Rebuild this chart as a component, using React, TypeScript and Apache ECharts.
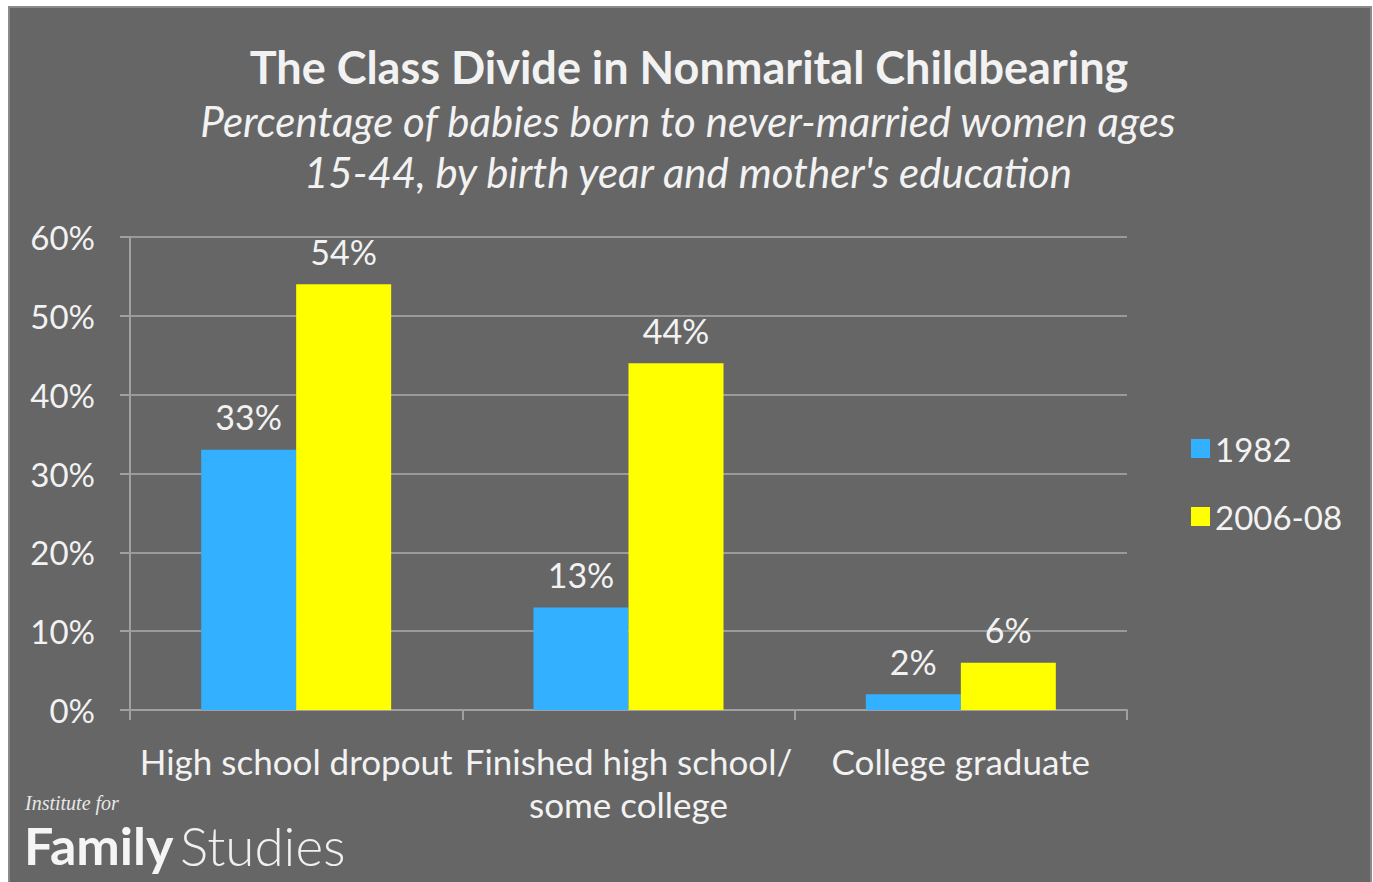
import React, { useEffect, useRef } from "react";
import * as echarts from "echarts";

const categories = ["High school dropout", "Finished high school/\nsome college", "College graduate"];
const series1982 = [33, 13, 2];
const series2006 = [54, 44, 6];
const seriesNames = ["1982", "2006-08"];

const FONT = "Lato, 'Open Sans', sans-serif";
const TXT = "#f2f2f2";

export default function App() {
  const ref = useRef<HTMLDivElement>(null);
  useEffect(() => {
    if (!ref.current) return;
    const chart = echarts.init(ref.current, null, { renderer: "svg" });
    chart.setOption({
      animation: false,
      backgroundColor: "#ffffff",
      textStyle: { fontFamily: FONT },
      graphic: [
        {
          type: "rect",
          z: -10,
          shape: { x: 9, y: 7, width: 1362, height: 880 },
          style: { fill: "#666666", stroke: "#8a8a8a", lineWidth: 2 },
        },
        {
          type: "text",
          x: 689,
          y: 44,
          style: { text: "The Class Divide in Nonmarital Childbearing", fill: TXT, font: `bold 45px ${FONT}`, align: "center" },
        },
        {
          type: "text",
          x: 688,
          y: 95,
          style: {
            text: "Percentage of babies born to never-married women ages\n15-44, by birth year and mother's education",
            fill: TXT,
            font: `italic 42px ${FONT}`,
            align: "center",
            lineHeight: 51,
          },
        },
        {
          type: "text",
          x: 25,
          y: 793,
          style: { text: "Institute for", fill: "#e8e8e8", font: "italic 20px 'Liberation Serif', serif", lineHeight: 20 },
        },
        {
          type: "text",
          x: 24,
          y: 819,
          style: { text: "Family", fill: "#f5f5f5", font: `bold 52px ${FONT}`, lineHeight: 52 },
        },
        {
          type: "text",
          x: 180,
          y: 819,
          style: { text: "Studies", fill: "#f0f0f0", font: `300 53px ${FONT}`, lineHeight: 52 },
        },
      ],
      legend: {
        orient: "vertical",
        left: 1186,
        top: 427,
        itemWidth: 19,
        itemHeight: 19,
        itemGap: 35,
        icon: "rect",
        textStyle: { color: TXT, fontSize: 33, fontFamily: FONT, padding: [0, 0, 0, 0] },
        data: seriesNames,
      },
      grid: { left: 130, right: 246, top: 237, bottom: 172, containLabel: false },
      xAxis: {
        type: "category",
        data: categories,
        axisLine: { lineStyle: { color: "#a0a0a0", width: 2 } },
        axisTick: { show: true, length: 10, lineStyle: { color: "#a0a0a0", width: 2 } },
        axisLabel: { color: TXT, fontSize: 35, fontFamily: FONT, margin: 29, lineHeight: 43, interval: 0 },
      },
      yAxis: {
        type: "value",
        min: 0,
        max: 60,
        interval: 10,
        axisLine: { show: true, lineStyle: { color: "#a0a0a0", width: 2 } },
        axisTick: { show: true, length: 10, lineStyle: { color: "#a0a0a0", width: 2 } },
        splitLine: { lineStyle: { color: "#9a9a9a", width: 2 } },
        axisLabel: { color: TXT, fontSize: 33, fontFamily: FONT, margin: 35, formatter: (v: number) => `${v}%` },
      },
      series: [
        {
          name: seriesNames[0],
          type: "bar",
          data: series1982,
          itemStyle: { color: "#33b0ff" },
          barWidth: 95,
          barGap: "0%",
          label: { show: true, position: "top", distance: 16, color: TXT, fontSize: 34, fontFamily: FONT, formatter: "{c}%" },
        },
        {
          name: seriesNames[1],
          type: "bar",
          data: series2006,
          itemStyle: { color: "#ffff00" },
          barWidth: 95,
          barGap: "0%",
          label: { show: true, position: "top", distance: 16, color: TXT, fontSize: 34, fontFamily: FONT, formatter: "{c}%" },
        },
      ],
    });
    return () => chart.dispose();
  }, []);
  return <div ref={ref} style={{ position: "absolute", left: 0, top: 0, width: 1373, height: 882 }} />;
}
